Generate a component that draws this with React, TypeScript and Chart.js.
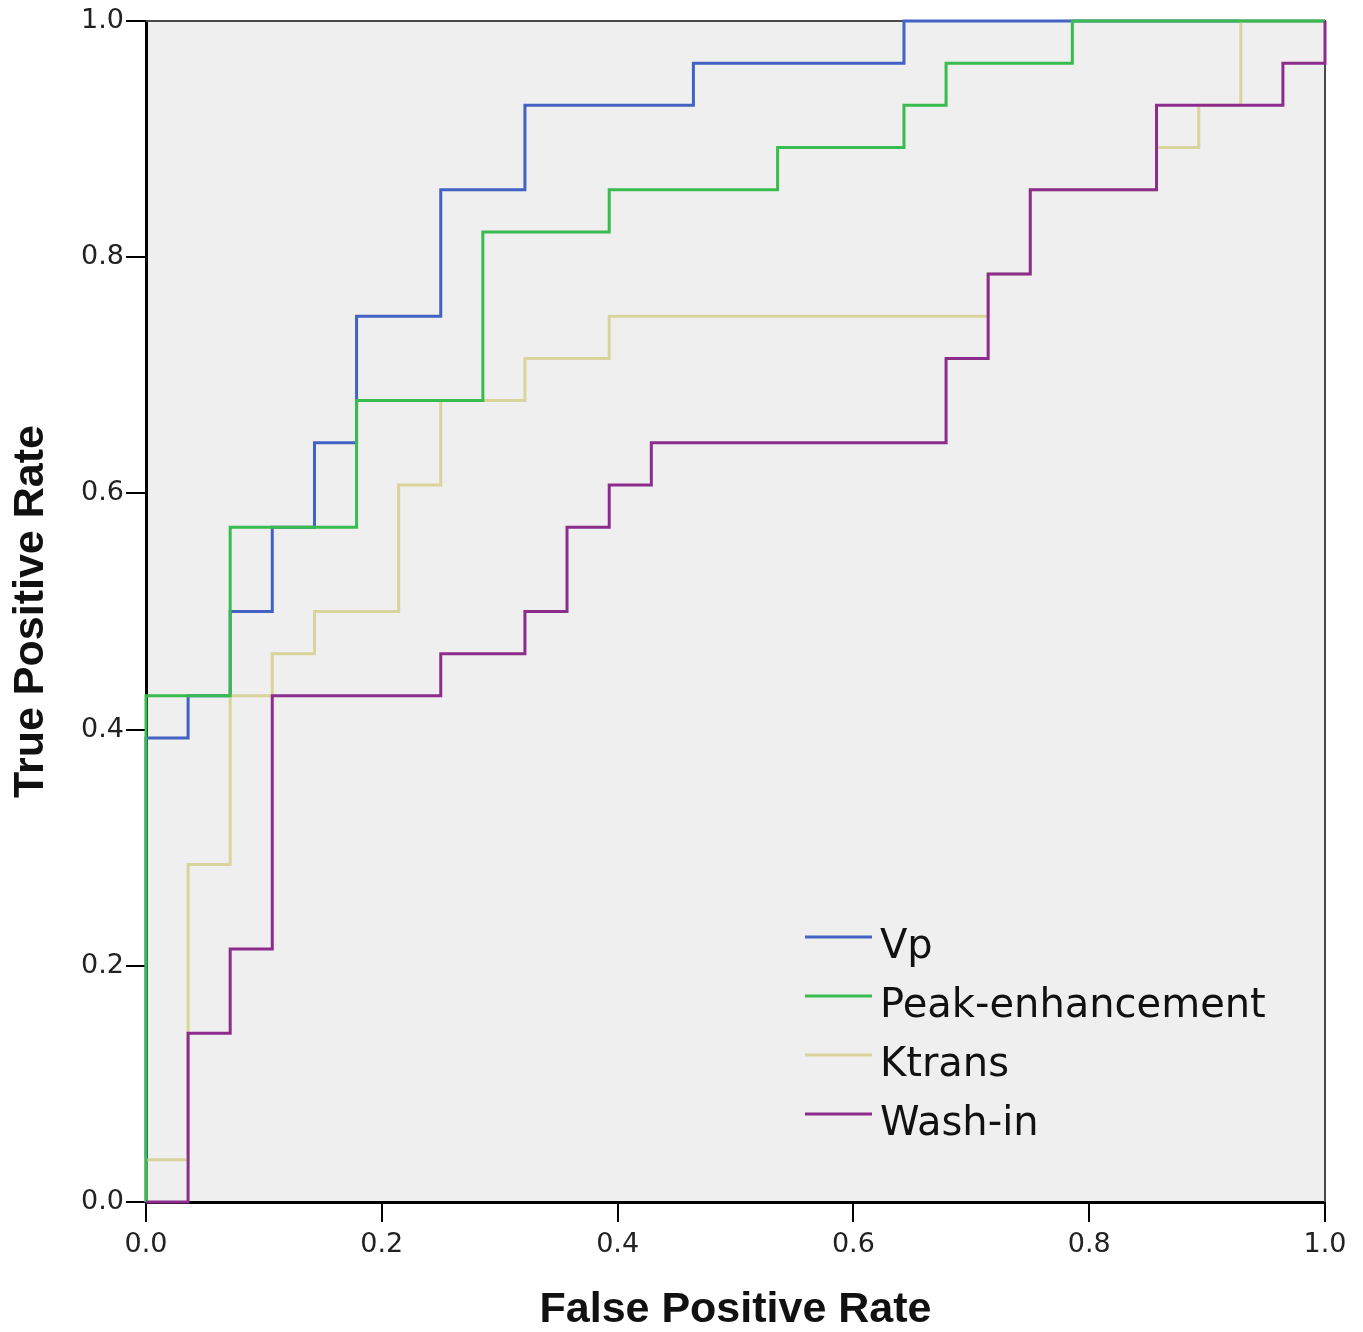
import React, { useEffect, useRef } from "react";
import { Chart, registerables } from "chart.js";

Chart.register(...registerables);

// ROC operating points (False Positive Rate, True Positive Rate)
const vpFpr = [0, 0, 0.0357, 0.0714, 0.1071, 0.1429, 0.1786, 0.25, 0.3214, 0.4643, 0.6429, 1];
const vpTpr = [0, 0.3929, 0.4286, 0.5, 0.5714, 0.6429, 0.75, 0.8571, 0.9286, 0.9643, 1, 1];

const peakFpr = [0, 0, 0.0714, 0.1786, 0.2857, 0.3929, 0.5357, 0.6429, 0.6786, 0.7857, 1];
const peakTpr = [0, 0.4286, 0.5714, 0.6786, 0.8214, 0.8571, 0.8929, 0.9286, 0.9643, 1, 1];

const ktransFpr = [0, 0, 0.0357, 0.0714, 0.1071, 0.1429, 0.2143, 0.25, 0.3214, 0.3929, 0.7143, 0.75, 0.8571, 0.8929, 0.9286, 1];
const ktransTpr = [0, 0.0357, 0.2857, 0.4286, 0.4643, 0.5, 0.6071, 0.6786, 0.7143, 0.75, 0.7857, 0.8571, 0.8929, 0.9286, 1, 1];

const washFpr = [0, 0.0357, 0.0714, 0.1071, 0.25, 0.3214, 0.3571, 0.3929, 0.4286, 0.6786, 0.7143, 0.75, 0.8571, 0.9643, 1];
const washTpr = [0, 0.1429, 0.2143, 0.4286, 0.4643, 0.5, 0.5714, 0.6071, 0.6429, 0.7143, 0.7857, 0.8571, 0.9286, 0.9643, 1];

const seriesNames = ["Vp", "Peak-enhancement", "Ktrans", "Wash-in"];
const seriesColors = ["#4262c4", "#38bc4e", "#d9d49c", "#8c2c8c"];
const seriesOrder = [4, 2, 3, 1];

const xTickLabels = ["0.0", "0.2", "0.4", "0.6", "0.8", "1.0"];
const yTickLabels = ["0.0", "0.2", "0.4", "0.6", "0.8", "1.0"];

const xTitle = "False Positive Rate";
const yTitle = "True Positive Rate";

const toPoints = (xs: number[], ys: number[]) => xs.map((x, i) => ({ x, y: ys[i] }));

const frameAndLegend = {
  id: "frameAndLegend",
  beforeDraw(chart: any) {
    const { ctx, chartArea: a } = chart;
    ctx.save();
    ctx.fillStyle = "#efefef";
    ctx.fillRect(a.left, a.top, a.right - a.left, a.bottom - a.top);
    ctx.restore();
  },
  beforeDatasetsDraw(chart: any) {
    const { ctx, chartArea: a } = chart;
    ctx.save();
    ctx.strokeStyle = "#4a4a4a";
    ctx.lineWidth = 2;
    ctx.beginPath();
    ctx.moveTo(a.left, a.top);
    ctx.lineTo(a.right, a.top);
    ctx.lineTo(a.right, a.bottom);
    ctx.stroke();
    ctx.restore();
  },
  afterDatasetsDraw(chart: any) {
    const { ctx, chartArea: a } = chart;
    const lineX0 = a.left + 659;
    const lineX1 = a.left + 726;
    const textX = a.left + 734;
    const firstLineY = 937;
    const firstBaseline = 958;
    const rowGap = 59;
    ctx.save();
    ctx.font = "40px 'DejaVu Sans', sans-serif";
    ctx.textAlign = "left";
    ctx.textBaseline = "alphabetic";
    chart.data.datasets.forEach((ds: any, i: number) => {
      ctx.strokeStyle = ds.borderColor;
      ctx.lineWidth = 3;
      ctx.beginPath();
      ctx.moveTo(lineX0, firstLineY + i * rowGap);
      ctx.lineTo(lineX1, firstLineY + i * rowGap);
      ctx.stroke();
      ctx.fillStyle = "#111";
      ctx.fillText(ds.label, textX, firstBaseline + i * rowGap);
    });
    ctx.restore();
  },
};

export default function App() {
  const ref = useRef<HTMLCanvasElement | null>(null);

  useEffect(() => {
    if (!ref.current) return;
    const sets = [
      [vpFpr, vpTpr],
      [peakFpr, peakTpr],
      [ktransFpr, ktransTpr],
      [washFpr, washTpr],
    ];
    const tickFont = { family: "'DejaVu Sans', sans-serif", size: 27 };
    const titleFont = { family: "'Liberation Sans', Arial, sans-serif", size: 43, weight: "bold" as const, lineHeight: 1 };
    const chart = new Chart(ref.current, {
      type: "line",
      data: {
        datasets: sets.map(([xs, ys], i) => ({
          label: seriesNames[i],
          data: toPoints(xs, ys),
          borderColor: seriesColors[i],
          backgroundColor: seriesColors[i],
          borderWidth: 3,
          pointRadius: 0,
          stepped: "before" as const,
          fill: false,
          order: seriesOrder[i],
          clip: 4,
        })),
      },
      options: {
        responsive: false,
        animation: false,
        layout: { padding: { left: 0, top: 21, right: 38, bottom: 0 } },
        plugins: {
          legend: { display: false },
          tooltip: { enabled: false },
        },
        scales: {
          x: {
            type: "linear",
            min: 0,
            max: 1,
            afterFit: (s: any) => {
              s.height = 130;
            },
            afterBuildTicks: (s: any) => {
              s.ticks = xTickLabels.map((l) => ({ value: parseFloat(l) }));
            },
            ticks: {
              callback: (_v: any, i: number) => xTickLabels[i],
              color: "#222",
              font: tickFont,
              padding: 7,
              maxRotation: 0,
            },
            grid: {
              drawOnChartArea: false,
              drawTicks: true,
              tickLength: 20,
              color: "#000",
              lineWidth: 2,
            },
            border: { display: true, color: "#000", width: 3 },
            title: {
              display: true,
              text: xTitle,
              color: "#111",
              font: titleFont,
              padding: { top: 0, bottom: 0 },
            },
          },
          y: {
            type: "linear",
            min: 0,
            max: 1,
            afterFit: (s: any) => {
              s.width = 146;
            },
            afterBuildTicks: (s: any) => {
              s.ticks = yTickLabels.map((l) => ({ value: parseFloat(l) }));
            },
            ticks: {
              callback: (_v: any, i: number) => yTickLabels[i],
              color: "#222",
              font: tickFont,
              padding: 2,
            },
            grid: {
              drawOnChartArea: false,
              drawTicks: true,
              tickLength: 20,
              color: "#000",
              lineWidth: 2,
            },
            border: { display: true, color: "#000", width: 3 },
            title: {
              display: true,
              text: yTitle,
              color: "#111",
              font: titleFont,
              padding: { top: 10, bottom: 0 },
            },
          },
        },
      },
      plugins: [frameAndLegend],
    });
    return () => chart.destroy();
  }, []);

  return (
    <div style={{ position: "fixed", left: 0, top: 0, width: 1363, height: 1332, background: "#fff" }}>
      <canvas ref={ref} width={1363} height={1332} style={{ width: 1363, height: 1332, display: "block" }} />
    </div>
  );
}
